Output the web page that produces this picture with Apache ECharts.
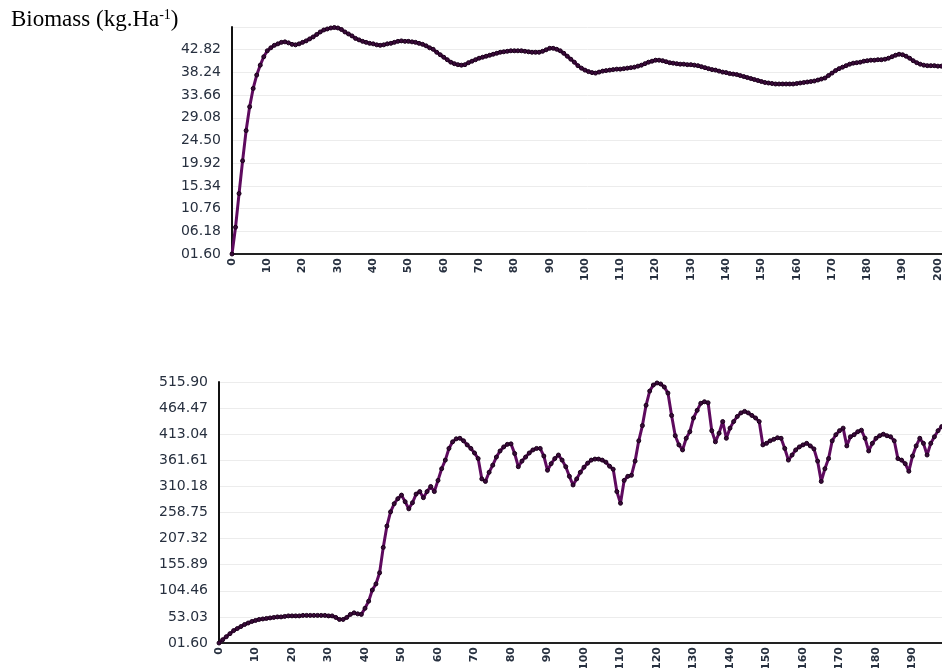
<!DOCTYPE html>
<html>
<head>
<meta charset="utf-8">
<script src="https://cdn.jsdelivr.net/npm/echarts@6/dist/echarts.min.js"></script>
<style>
html,body{margin:0;padding:0;background:#fff;}
#c{width:942px;height:668px;}
</style>
</head>
<body>
<div id="c"></div>
<script>
// Top panel: biomass per day (day = index)
var topValues = [1.6,7.0,13.8,20.4,26.5,31.3,35.0,37.7,39.7,41.4,
42.6,43.2,43.7,44.0,44.3,44.4,44.2,43.9,43.8,44.0,
44.3,44.6,45.0,45.4,45.9,46.4,46.8,47.0,47.2,47.3,
47.2,46.9,46.4,46.0,45.6,45.1,44.8,44.5,44.3,44.1,
44.0,43.8,43.7,43.8,44.0,44.1,44.3,44.5,44.6,44.5,
44.5,44.4,44.3,44.1,43.9,43.6,43.2,42.9,42.3,41.8,
41.3,40.8,40.3,40.0,39.8,39.7,39.8,40.2,40.5,40.8,
41.1,41.3,41.5,41.7,41.9,42.1,42.3,42.4,42.5,42.6,
42.6,42.6,42.6,42.5,42.4,42.3,42.3,42.3,42.5,42.8,
43.1,43.1,42.9,42.6,42.1,41.5,40.9,40.3,39.6,39.1,
38.7,38.4,38.2,38.1,38.3,38.5,38.6,38.7,38.8,38.9,
38.9,39.0,39.1,39.2,39.3,39.5,39.7,40.0,40.3,40.5,
40.7,40.7,40.6,40.4,40.2,40.1,40.0,39.9,39.9,39.8,
39.8,39.7,39.6,39.4,39.2,39.0,38.8,38.7,38.5,38.3,
38.2,38.0,37.9,37.8,37.6,37.4,37.2,37.0,36.8,36.6,
36.4,36.2,36.1,36.0,35.9,35.9,35.9,35.9,35.9,35.9,
36.0,36.1,36.2,36.3,36.4,36.5,36.7,36.9,37.1,37.6,
38.1,38.6,39.0,39.3,39.6,39.9,40.1,40.2,40.3,40.5,
40.6,40.7,40.7,40.8,40.8,40.9,41.1,41.4,41.7,41.9,
41.8,41.5,41.1,40.6,40.2,39.9,39.7,39.6,39.6,39.6,
39.5,39.5,39.4,39.4];

// Bottom panel: biomass per day (day = index)
var bottomValues = [1.6,8,14,20,26,30,34,38,41,44,
46,48,49,50,51,52,53,53,54,55,
55,55,55,56,56,56,56,56,56,56,
55,55,52,48,48,52,58,61,59,58,
70,84,106,118,140,190,232,260,276,286,
293,280,266,278,295,300,288,300,310,300,
322,345,362,385,398,404,405,400,392,385,
376,365,325,320,338,352,368,380,388,393,
394,375,349,360,368,376,382,385,385,370,
342,355,365,372,362,349,330,313,325,338,
348,356,362,364,364,362,358,350,344,300,
277,322,330,332,360,400,430,470,498,510,
514,512,506,494,450,410,392,382,405,418,
445,460,474,477,475,420,398,415,438,405,
425,438,448,455,458,455,450,445,438,392,
395,400,403,406,405,385,362,372,382,388,
392,395,390,384,360,320,345,365,400,412,
420,425,390,408,412,418,421,405,380,395,
405,410,413,410,408,400,365,362,355,340,
370,390,405,395,372,395,408,420,428];

var topTickLabels = ["01.60","06.18","10.76","15.34","19.92","24.50","29.08","33.66","38.24","42.82",""];
var bottomTickLabels = ["01.60","53.03","104.46","155.89","207.32","258.75","310.18","361.61","413.04","464.47","515.90"];
var xTickLabels = ["0","10","20","30","40","50","60","70","80","90","100","110","120","130","140","150","160","170","180","190","200"];

var titleMain = "Biomass (kg.Ha";
var titleSup = "-1";

var topAxis = {min:1.6, max:47.4, interval:4.58};
var bottomAxis = {min:1.6, max:515.9, interval:51.43};

function pairs(arr){ return arr.map(function(v,i){ return [i, v]; }); }

var labelColor = '#27303f';

function yAxisFor(ax, labels, gi){
  return {
    type:'value', gridIndex:gi, min:ax.min, max:ax.max, interval:ax.interval,
    axisLine:{show:true, lineStyle:{color:'#111', width:2}},
    axisTick:{show:false},
    splitLine:{show:true, lineStyle:{color:'#ececec', width:1}},
    axisLabel:{margin:11, fontFamily:'DejaVu Sans', fontSize:14, color:labelColor,
      formatter:function(v){
        var k = Math.round((v-ax.min)/ax.interval);
        return labels[k] !== undefined ? labels[k] : '';
      }}
  };
}
function xAxisFor(max, gi){
  return {
    type:'value', gridIndex:gi, min:0, max:max, interval:10,
    axisLine:{show:true, onZero:false, lineStyle:{color:'#222', width:2}},
    axisTick:{show:false},
    splitLine:{show:false},
    axisLabel:{rotate:90, margin:4, showMaxLabel:false, fontFamily:'DejaVu Sans', fontSize:11, fontWeight:'bold', color:labelColor,
      formatter:function(v){
        var k = v/10;
        return (Math.abs(k-Math.round(k))<1e-6 && xTickLabels[Math.round(k)]) ? xTickLabels[Math.round(k)] : '';
      }}
  };
}
function seriesFor(vals, gi){
  return {
    type:'line', xAxisIndex:gi, yAxisIndex:gi, data:pairs(vals),
    showSymbol:true, symbol:'circle', symbolSize:4,
    lineStyle:{color:'#5e0a5e', width:3},
    itemStyle:{color:'#3a0a3a', borderColor:'#1a001a', borderWidth:1},
    animation:false, silent:true
  };
}

var chart = echarts.init(document.getElementById('c'), null, {renderer:'canvas'});
chart.setOption({
  backgroundColor:'#ffffff',
  animation:false,
  title:{
    text:'{a|'+titleMain+'}{b|'+titleSup+'}{a|)}',
    left:6, top:3,
    textStyle:{fontWeight:'normal', rich:{
      a:{fontFamily:'Liberation Serif', fontSize:23, fontWeight:'normal', color:'#000'},
      b:{fontFamily:'Liberation Serif', fontSize:14, fontWeight:'normal', color:'#000', verticalAlign:'top'}
    }}
  },
  grid:[
    {left:232, top:27, width:720, height:227, outerBoundsMode:'none', containLabel:false},
    {left:219, top:382, width:730, height:261, outerBoundsMode:'none', containLabel:false}
  ],
  xAxis:[xAxisFor(204,0), xAxisFor(200,1)],
  yAxis:[yAxisFor(topAxis, topTickLabels, 0), yAxisFor(bottomAxis, bottomTickLabels, 1)],
  series:[seriesFor(topValues,0), seriesFor(bottomValues,1)]
});
</script>
</body>
</html>
